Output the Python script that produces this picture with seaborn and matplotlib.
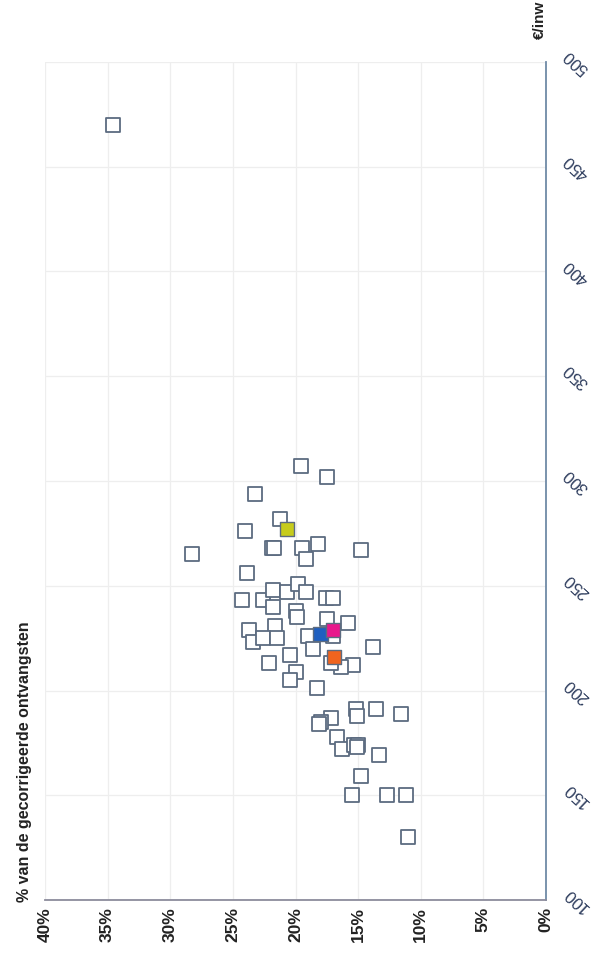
import seaborn as sns
import pandas as pd
from matplotlib import pylab as plt

# gemeenten: uitgaven per inwoner (x) vs aandeel gecorrigeerde ontvangsten (y)
eur_inw = [470, 307, 302, 294, 282, 276, 268, 268, 268, 270, 263, 267, 265,
           256, 243, 243, 248, 240, 247, 251, 247, 244, 244, 238, 235, 234,
           232, 226, 226, 231, 229, 223, 225, 225, 220, 221, 217, 212, 211,
           213, 213, 209, 205, 201, 191, 188, 191, 189, 187, 185, 184, 178,
           172, 174, 174, 173, 169, 159, 150, 150, 150, 130]
pct_ontv = [34.6, 19.6, 17.5, 23.2, 21.2, 24.0, 21.9, 21.7, 19.5, 18.2, 19.2,
            14.8, 28.3, 23.9, 24.3, 22.6, 21.8, 21.8, 20.7, 19.8, 19.2, 17.6,
            17.0, 20.0, 19.9, 17.5, 15.8, 17.0, 19.0, 21.6, 23.7, 23.4, 22.6,
            21.5, 18.6, 13.8, 20.4, 15.4, 16.4, 17.2, 22.1, 20.0, 20.4, 18.3,
            15.2, 15.1, 13.6, 11.6, 17.2, 18.0, 18.1, 16.7, 16.3, 15.3, 15.0,
            15.1, 13.3, 14.8, 15.5, 12.7, 11.2, 11.0]

# gemarkeerde gemeenten
hl_eur = [277, 227, 229, 216]
hl_pct = [20.7, 18.0, 17.0, 16.9]
hl_naam = ["geel", "blauw", "roze", "oranje"]
hl_kleur = ["#c6cc1c", "#1f5fc0", "#e8188c", "#f0641e"]

eur_ticks = [100, 150, 200, 250, 300, 350, 400, 450, 500]
pct_ticks = [0, 5, 10, 15, 20, 25, 30, 35, 40]

sns.set_style("white")
plt.rcParams["font.family"] = ["Liberation Sans", "DejaVu Sans"]

fig = plt.figure(figsize=(5.93, 9.59), dpi=100)
ax = fig.add_axes([45 / 593, 1 - 900 / 959, 501 / 593, 838 / 959])

df = pd.DataFrame({"pct": pct_ontv, "eur": eur_inw})
sns.scatterplot(data=df, x="pct", y="eur", ax=ax, marker="s", s=105,
                color="white", edgecolor="#5c6b80", linewidth=1.3, zorder=3)

df_hl = pd.DataFrame({"pct": hl_pct, "eur": hl_eur, "naam": hl_naam})
sns.scatterplot(data=df_hl, x="pct", y="eur", hue="naam", ax=ax, marker="s",
                s=105, palette=hl_kleur, edgecolor="#5c6b80", linewidth=1.0,
                legend=False, zorder=4)

ax.set_xlim(40, 0)
ax.set_ylim(100, 500)
ax.set_xlabel("")
ax.set_ylabel("")

ax.set_xticks(pct_ticks)
ax.set_xticklabels([f"{t}%" for t in pct_ticks], rotation=90,
                   fontsize=12.5, fontweight="bold", color="#222222")
ax.tick_params(axis="x", length=0, pad=5)

ax.yaxis.tick_right()
ax.set_yticks(eur_ticks)
ax.set_yticklabels([str(t) for t in eur_ticks], fontsize=12,
                   color="#2c3b5c")
ax.tick_params(axis="y", length=0, pad=22)
for lbl in ax.get_yticklabels():
    lbl.set_rotation(137)
    lbl.set_rotation_mode("anchor")
    lbl.set_ha("center")
    lbl.set_va("center")

ax.grid(True, color="#eeeeee", linewidth=0.9)
ax.set_axisbelow(True)
for side in ["left", "top"]:
    ax.spines[side].set_visible(False)
ax.spines["bottom"].set_color("#8c8c9c")
ax.spines["bottom"].set_linewidth(1.3)
ax.spines["right"].set_color("#6f8aa6")
ax.spines["right"].set_linewidth(1.3)

fig.text(25 / 593, 1 - 902 / 959, "% van de gecorrigeerde ontvangsten",
         rotation=90, ha="center", va="bottom", fontsize=11.5,
         fontweight="bold", color="#222222")
fig.text(540 / 593, 1 - 20 / 959, "€/inw", rotation=90, ha="center",
         va="center", fontsize=11, fontweight="bold", color="#222222")

fig.savefig("out.png", dpi=100)
